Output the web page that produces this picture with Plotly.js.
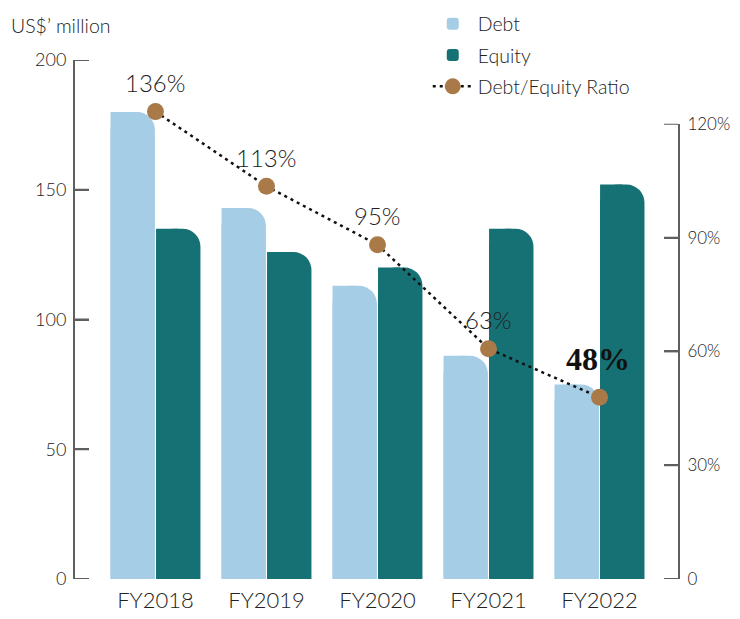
<!DOCTYPE html>
<html>
<head>
<meta charset="utf-8">
<script src="https://cdn.plot.ly/plotly-3.0.1.min.js"></script>
<style>html,body{margin:0;padding:0;background:#fff;}#chart{width:740px;height:619px;}</style>
</head>
<body>
<div id="chart"></div>
<script>
const years = ['FY2018', 'FY2019', 'FY2020', 'FY2021', 'FY2022'];
const debt = [180, 143, 113, 86, 75];
const equity = [135, 126, 120, 135, 152];
const ratio = [136, 113, 95, 63, 48];
const ratioLabels = ['136%', '113%', '95%', '63%', '48%'];
const leftTicks = [0, 50, 100, 150, 200];
const rightTickVals = [0, 30, 60, 90, 120];
const rightTickText = ['0', '30%', '60%', '90%', '120%'];

const FONT = 'Lato, "Noto Sans", sans-serif';
const TXT = '#222222';
const AXC = '#5f5f5f';
const DEBT_C = '#A6CDE6';
const EQ_C = '#167174';
const DOT_C = '#A97A48';

const W = 0.40;
const traces = [
  {type: 'bar', name: 'Debt', x: years, y: debt, width: W, offset: -W - 0.005,
   marker: {color: DEBT_C, cornerradius: 18}, legendgroup: 'd'},
  {type: 'bar', name: 'Debt', x: years, y: debt, width: W / 2, offset: -W - 0.005,
   marker: {color: DEBT_C}, showlegend: false, hoverinfo: 'skip', legendgroup: 'd'},
  {type: 'bar', name: 'Equity', x: years, y: equity, width: W, offset: 0.005,
   marker: {color: EQ_C, cornerradius: 18}, legendgroup: 'e'},
  {type: 'bar', name: 'Equity', x: years, y: equity, width: W / 2, offset: 0.005,
   marker: {color: EQ_C}, showlegend: false, hoverinfo: 'skip', legendgroup: 'e'},
  {type: 'scatter', mode: 'lines+markers', name: 'Debt/Equity Ratio', x: years, y: ratio,
   yaxis: 'y3', line: {color: '#111111', width: 2.5, dash: '3px,4px'},
   marker: {color: DOT_C, size: 17}, legendgroup: 'r'},
  // empty trace so that the right-hand percentage axis is drawn
  {type: 'scatter', mode: 'markers', x: [], y: [], yaxis: 'y2', showlegend: false, hoverinfo: 'skip'}
];

const annotations = years.map((yr, i) => {
  const last = i === years.length - 1;
  return {
    x: yr, y: ratio[i], xref: 'x', yref: 'y3', text: ratioLabels[i], showarrow: false,
    yanchor: 'middle', yshift: last ? 38 : 29, xshift: last ? -2 : 0,
    font: last ? {family: '"Liberation Serif", "DejaVu Serif", serif', size: 32, color: '#111111', weight: 700}
               : {family: FONT, size: 24, color: TXT, weight: 300}
  };
});
annotations.push({
  text: 'US$\u2019 million', xref: 'paper', yref: 'paper', x: -0.11, y: 1.0, xanchor: 'left', yanchor: 'middle',
  yshift: 35, showarrow: false, font: {family: FONT, size: 19.5, color: TXT, weight: 300}
});

// tick marks pointing into the plot, placed through the axes' own scales
const TICK_FRAC = 14 / 603;
const shapes = [];
leftTicks.forEach(v => shapes.push({type: 'line', xref: 'paper', yref: 'y', x0: 0, x1: TICK_FRAC, y0: v, y1: v,
  line: {color: AXC, width: 2}, layer: 'above'}));
rightTickVals.forEach(v => shapes.push({type: 'line', xref: 'paper', yref: 'y2', x0: 1 - TICK_FRAC, x1: 1, y0: v, y1: v,
  line: {color: AXC, width: 2}, layer: 'above'}));

const layout = {
  width: 740, height: 619,
  margin: {l: 75, r: 62, t: 60, b: 40, autoexpand: false},
  paper_bgcolor: '#ffffff', plot_bgcolor: 'rgba(0,0,0,0)',
  barmode: 'overlay',
  showlegend: true,
  font: {family: FONT, color: TXT, weight: 300},
  legend: {x: 0.585, y: 1.107, xanchor: 'left', yanchor: 'top', traceorder: 'grouped', tracegroupgap: 3,
           itemwidth: 40, font: {family: FONT, size: 19.5, color: TXT, weight: 300}, bgcolor: 'rgba(0,0,0,0)'},
  xaxis: {type: 'category', range: [-0.725, 4.707], showline: false, showgrid: false, zeroline: false,
          ticks: '', ticklabelstandoff: 6, tickfont: {family: FONT, size: 22, color: TXT, weight: 300}},
  yaxis: {range: [0, 200], tickvals: leftTicks, showline: true, linecolor: AXC, linewidth: 2, mirror: false,
          ticks: 'inside', ticklen: 14, tickwidth: 2, tickcolor: AXC, showgrid: false, zeroline: false,
          ticklabelstandoff: 3, tickfont: {family: FONT, size: 18, color: TXT, weight: 300}},
  yaxis2: {range: [0, 120], domain: [0, 0.877], anchor: 'x', side: 'right', tickvals: rightTickVals,
           ticktext: rightTickText, showline: true, linecolor: AXC, linewidth: 2, ticks: 'inside', mirror: false,
           ticklen: 14, tickwidth: 2, tickcolor: AXC, showgrid: false, zeroline: false,
           ticklabelstandoff: 4, tickfont: {family: FONT, size: 17, color: TXT, weight: 300}},
  yaxis3: {range: [-7.95, 151.9], overlaying: 'y', side: 'right', visible: false, showgrid: false, zeroline: false},
  shapes: shapes,
  annotations: annotations
};

Plotly.newPlot('chart', traces, layout, {displayModeBar: false, staticPlot: true});
</script>
</body>
</html>
